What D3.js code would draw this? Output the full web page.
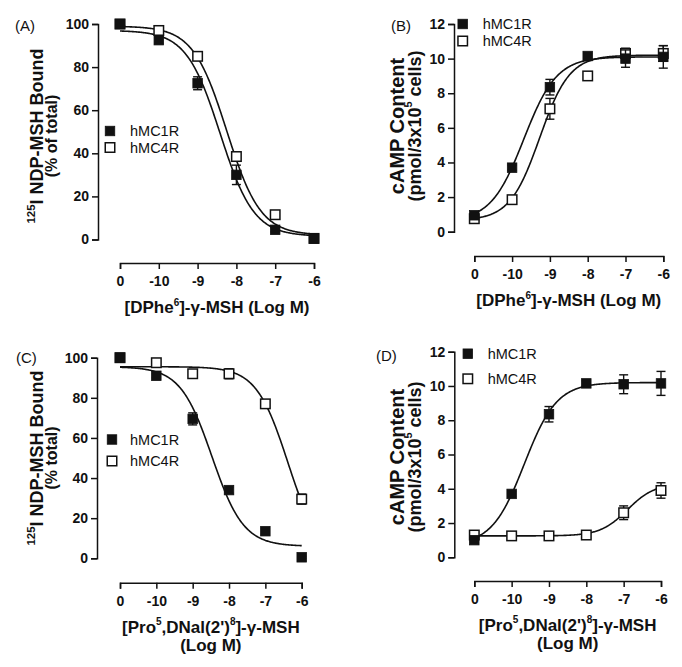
<!DOCTYPE html>
<html>
<head>
<meta charset="utf-8">
<script src="https://cdn.jsdelivr.net/npm/d3@7"></script>
<style>
  html, body { margin: 0; padding: 0; background: #fff; }
  svg { display: block; }
  text { font-family: "Liberation Sans", Arial, Helvetica, sans-serif; fill: #111; }
</style>
</head>
<body>
<svg id="chart" width="682" height="667"></svg>
<script>
// ---------------- DATA ----------------
const logDose = [-11, -10, -9, -8, -7, -6];          // -11 position is the "0" (vehicle) point
const xTickLabels = ["0", "-10", "-9", "-8", "-7", "-6"];
const bindingTicks = [0, 20, 40, 60, 80, 100];
const campTicks = [0, 2, 4, 6, 8, 10, 12];
const seriesNames = ["hMC1R", "hMC4R"];

// Panel A: [DPhe6]-γ-MSH binding (% of total)
const aMC1R    = [100, 92.5, 72.5, 30, 4.5, 0.5];
const aMC1RErr = [0, 1.5, 3, 4.5, 1, 0.5];
const aMC4R    = [100, 97, 85, 38.5, 11.5, 0.5];
const aMC4RErr = [0, 1, 1.5, 2, 1, 0.5];
const aFitMC1R = [97, 1.5, -8.42, -1];   // top, bottom, logEC50, hill slope
const aFitMC4R = [99, 2, -8.25, -1];

// Panel B: [DPhe6]-γ-MSH cAMP
const bMC1R    = [0.95, 3.7, 8.35, 10.15, 10.0, 10.1];
const bMC1RErr = [0.1, 0.15, 0.45, 0.15, 0.5, 0.65];
const bMC4R    = [0.75, 1.85, 7.1, 9.0, 10.3, 10.3];
const bMC4RErr = [0.1, 0.1, 0.6, 0.1, 0.3, 0.45];
const bFitMC1R = [10.1, 0.6, -9.69, 1];
const bFitMC4R = [10.2, 0.65, -9.27, 1.1];

// Panel C: [Pro5,DNal(2')8]-γ-MSH binding (% total)
const cMC1R    = [100, 91, 69.5, 34, 13.5, 0.5];
const cMC1RErr = [0, 1, 3, 1.5, 1.5, 0.5];
const cMC4R    = [100, 97.5, 92, 92, 77, 29.5];
const cMC4RErr = [0, 1, 1, 2.5, 1, 2.5];
const cFitMC1R = [95.5, 6, -8.47, -1];
const cFitMC4R = [95.5, 0, -6.38, -1];

// Panel D: [Pro5,DNal(2')8]-γ-MSH cAMP
const dMC1R    = [1.0, 3.7, 8.35, 10.15, 10.1, 10.15];
const dMC1RErr = [0.1, 0.15, 0.45, 0.15, 0.55, 0.7];
const dMC4R    = [1.3, 1.25, 1.25, 1.3, 2.6, 3.9];
const dMC4RErr = [0.1, 0.1, 0.1, 0.1, 0.4, 0.45];
const dFitMC1R = [10.2, 0.7, -9.66, 1];
const dFitMC4R = [4.3, 1.25, -6.9, 1.2];

// ---------------- LAYOUT ----------------
const FONT = '"Liberation Sans", Arial, Helvetica, sans-serif';
const svg = d3.select("#chart");

const panels = [
  { letter: "(A)", letterPos: [15, 31], kind: "bind",
    yAxisX: 98, yTop: 24, yBottom: 239.5, xLeft: 120, xRight: 314, xAxisY: 263,
    yMax: 100, yTicks: bindingTicks,
    mc1: aMC1R, mc1e: aMC1RErr, mc4: aMC4R, mc4e: aMC4RErr, fit1: aFitMC1R, fit4: aFitMC4R,
    legend: { x: 110, y1: 131, y2: 147.5, tx: 130 },
    ylab: { cy: 136, x1: 43, x2: 57, l2: "(% of total)" },
    xlab: "dphe" },
  { letter: "(B)", letterPos: [391, 31], kind: "camp",
    yAxisX: 454, yTop: 24, yBottom: 231.7, xLeft: 474.3, xRight: 663.3, xAxisY: 256,
    yMax: 12, yTicks: campTicks,
    mc1: bMC1R, mc1e: bMC1RErr, mc4: bMC4R, mc4e: bMC4RErr, fit1: bFitMC1R, fit4: bFitMC4R,
    legend: { x: 462.7, y1: 24, y2: 41, tx: 482.7 },
    ylab: { cy: 126, x1: 404, x2: 421 },
    xlab: "dphe" },
  { letter: "(C)", letterPos: [16, 363], kind: "bind",
    yAxisX: 97, yTop: 357.7, yBottom: 558.3, xLeft: 120, xRight: 301.7, xAxisY: 582.7,
    yMax: 100, yTicks: bindingTicks,
    mc1: cMC1R, mc1e: cMC1RErr, mc4: cMC4R, mc4e: cMC4RErr, fit1: cFitMC1R, fit4: cFitMC4R,
    legend: { x: 112, y1: 439.5, y2: 461, tx: 130 },
    ylab: { cy: 458, x1: 43, x2: 57, l2: "(% total)" },
    xlab: "pro" },
  { letter: "(D)", letterPos: [376, 361], kind: "camp",
    yAxisX: 454.3, yTop: 351.7, yBottom: 557.3, xLeft: 474.3, xRight: 661, xAxisY: 581,
    yMax: 12, yTicks: campTicks,
    mc1: dMC1R, mc1e: dMC1RErr, mc4: dMC4R, mc4e: dMC4RErr, fit1: dFitMC1R, fit4: dFitMC4R,
    legend: { x: 467.8, y1: 353.7, y2: 378.8, tx: 487.7 },
    ylab: { cy: 457, x1: 404, x2: 421 },
    xlab: "pro" }
];

function logistic(fit, x) {
  const [top, bottom, c, h] = fit;
  return bottom + (top - bottom) / (1 + Math.pow(10, (c - x) * h));
}

const SQ = 9.5;

panels.forEach(p => {
  const g = svg.append("g");
  const x = d3.scaleLinear().domain([-11, -6]).range([p.xLeft, p.xRight]);
  const y = d3.scaleLinear().domain([0, p.yMax]).range([p.yBottom, p.yTop]);

  // Y axis
  const ya = g.append("g").attr("transform", `translate(${p.yAxisX},0)`)
    .call(d3.axisLeft(y).tickValues(p.yTicks).tickSizeOuter(0).tickSize(6).tickPadding(3));
  // X axis (offset, separate)
  const xa = g.append("g").attr("transform", `translate(0,${p.xAxisY})`)
    .call(d3.axisBottom(x).tickValues(logDose).tickFormat((d, i) => xTickLabels[i])
      .tickSizeOuter(0).tickSize(6).tickPadding(7));
  [ya, xa].forEach(a => {
    a.selectAll("path, line").attr("stroke", "#111").attr("stroke-width", 1.5);
    a.selectAll("text").attr("font-family", FONT).attr("font-size", 14)
      .attr("font-weight", "bold").attr("fill", "#111");
  });

  // fitted curves
  const xs = d3.range(-11, -6.0001, 0.02).concat([-6]);
  const line = d3.line().x(d => x(d[0])).y(d => y(d[1]));
  [p.fit4, p.fit1].forEach(fit => {
    g.append("path").datum(xs.map(v => [v, logistic(fit, v)]))
      .attr("d", line).attr("fill", "none").attr("stroke", "#111").attr("stroke-width", 1.6);
  });

  // error bars + markers
  const series = [
    { vals: p.mc4, err: p.mc4e, filled: false },
    { vals: p.mc1, err: p.mc1e, filled: true }
  ];
  series.forEach(s => {
    const pts = logDose.map((d, i) => ({ d, v: s.vals[i], e: s.err[i] }));
    const eb = g.append("g");
    pts.forEach(pt => {
      if (pt.e <= 0) return;
      const cx = x(pt.d);
      eb.append("line").attr("x1", cx).attr("x2", cx)
        .attr("y1", y(pt.v - pt.e)).attr("y2", y(pt.v + pt.e))
        .attr("stroke", "#111").attr("stroke-width", 1.4);
      [pt.v - pt.e, pt.v + pt.e].forEach(v => {
        eb.append("line").attr("x1", cx - 4.5).attr("x2", cx + 4.5)
          .attr("y1", y(v)).attr("y2", y(v)).attr("stroke", "#111").attr("stroke-width", 1.4);
      });
    });
    g.append("g").selectAll("rect").data(pts).join("rect")
      .attr("x", pt => x(pt.d) - SQ / 2).attr("y", pt => y(pt.v) - SQ / 2)
      .attr("width", SQ).attr("height", SQ)
      .attr("fill", s.filled ? "#111" : "#fff")
      .attr("stroke", "#111").attr("stroke-width", s.filled ? 0.8 : 1.5);
  });

  // legend
  const L = p.legend;
  [[L.y1, true, seriesNames[0]], [L.y2, false, seriesNames[1]]].forEach(([ly, filled, name]) => {
    g.append("rect").attr("x", L.x - SQ / 2).attr("y", ly - SQ / 2).attr("width", SQ).attr("height", SQ)
      .attr("fill", filled ? "#111" : "#fff").attr("stroke", "#111").attr("stroke-width", filled ? 0.8 : 1.5);
    g.append("text").attr("x", L.tx).attr("y", ly + 5).attr("font-size", 14.5).text(name);
  });

  // panel letter
  g.append("text").attr("x", p.letterPos[0]).attr("y", p.letterPos[1]).attr("font-size", 15).text(p.letter);

  // y label
  const yl = p.ylab;
  if (p.kind === "bind") {
    const t1 = g.append("text").attr("transform", `translate(${yl.x1},${yl.cy}) rotate(-90)`)
      .attr("text-anchor", "middle").attr("font-weight", "bold").attr("font-size", 18);
    t1.append("tspan").attr("font-size", 11.5).attr("dy", -8).text("125");
    t1.append("tspan").attr("dy", 8).text("I NDP-MSH Bound");
    g.append("text").attr("transform", `translate(${yl.x2},${yl.cy}) rotate(-90)`)
      .attr("text-anchor", "middle").attr("font-weight", "bold").attr("font-size", 16).text(yl.l2);
  } else {
    g.append("text").attr("transform", `translate(${yl.x1},${yl.cy}) rotate(-90)`)
      .attr("text-anchor", "middle").attr("font-weight", "bold").attr("font-size", 20).text("cAMP Content");
    const t2 = g.append("text").attr("transform", `translate(${yl.x2},${yl.cy}) rotate(-90)`)
      .attr("text-anchor", "middle").attr("font-weight", "bold").attr("font-size", 18);
    t2.append("tspan").text("(pmol/3x10");
    t2.append("tspan").attr("font-size", 11).attr("dy", -9).text("5");
    t2.append("tspan").attr("dy", 9).text(" cells)");
  }

  // x label
  const cx = (p.xLeft + p.xRight) / 2;
  if (p.xlab === "dphe") {
    const t = g.append("text").attr("x", cx).attr("y", p.xAxisY + 50)
      .attr("text-anchor", "middle").attr("font-weight", "bold").attr("font-size", 17);
    t.append("tspan").text("[DPhe");
    t.append("tspan").attr("font-size", 10).attr("dy", -7).text("6");
    t.append("tspan").attr("dy", 7).text("]-γ-MSH (Log M)");
  } else {
    const t = g.append("text").attr("x", cx).attr("y", p.xAxisY + 50)
      .attr("text-anchor", "middle").attr("font-weight", "bold").attr("font-size", 17);
    t.append("tspan").text("[Pro");
    t.append("tspan").attr("font-size", 10).attr("dy", -8).text("5");
    t.append("tspan").attr("dy", 8).text(",DNal(2')");
    t.append("tspan").attr("font-size", 10).attr("dy", -8).text("8");
    t.append("tspan").attr("dy", 8).text("]-γ-MSH");
    g.append("text").attr("x", cx).attr("y", p.xAxisY + 68)
      .attr("text-anchor", "middle").attr("font-weight", "bold").attr("font-size", 17).text("(Log M)");
  }
});
</script>
</body>
</html>
